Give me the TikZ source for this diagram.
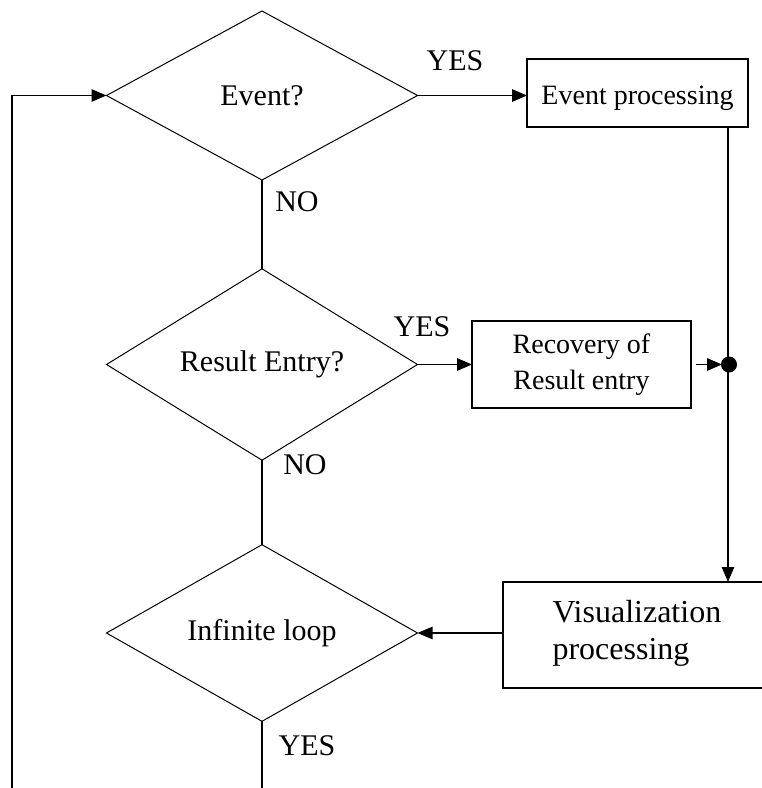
\documentclass[tikz,border=0pt]{standalone}
\usepackage{fontspec}
\setmainfont{Liberation Serif}
\usetikzlibrary{shapes.geometric,arrows.meta}
\begin{document}
\begin{tikzpicture}[x=1pt,y=-1pt,
  line width=1.1pt,
  dia/.style={draw, line width=1pt, diamond, inner sep=0pt, outer sep=0pt, minimum width=311pt, minimum height=169pt, font=\fontsize{30}{36}\selectfont},
  procbox/.style={draw, line width=1.4pt, rectangle, inner sep=0pt, outer sep=0pt, font=\fontsize{28}{36}\selectfont, align=center},
  lbl/.style={font=\fontsize{30}{36}\selectfont, inner sep=0pt},
  flow/.style={-{Triangle[length=15pt,width=12.5pt]}}]
\useasboundingbox (0,0) rectangle (762,788);
\clip (0,0) rectangle (762,788);
% decisions
\node[dia] (ev) at (262,95.5) {Event?};
\node[dia] (re) at (262,364.5) {Result Entry?};
\node[dia] (inf) at (262,633) {Infinite loop};
% processes
\node[procbox, minimum width=221pt, minimum height=68pt] (ep) at (637.5,93) {\raisebox{-5pt}[\height][\depth]{Event processing}};
\node[procbox, minimum width=219pt, minimum height=87pt] (rec) at (581.5,364.5) {Recovery of\\Result entry};
\node[procbox, minimum width=300pt, minimum height=106pt, anchor=north west] (vis) at (503,582) {};
\node[font=\fontsize{32}{37}\selectfont, align=left, anchor=west, inner sep=0pt] (vistext) at (552,633) {Visualization\\processing};
% junction
\coordinate (j) at (728,364.5);
\coordinate (bot) at (262,800);
\coordinate (botleft) at (12,800);
% connectors
\draw[flow] (ev.east) -- (ep.west |- ev.east);
\draw (ev.south) -- (re.north);
\draw[flow] (re.east) -- (rec.west |- re.east);
\draw (re.south) -- (inf.north);
\draw[flow] (ep.south -| j) -- (vis.north -| j);
\draw[flow] ([xshift=5pt]rec.east |- j) -- ([xshift=-6pt]j);
\fill ([xshift=1pt]j) circle (8pt);
\draw[flow] (vis.west |- inf.east) -- (inf.east);
\draw (inf.south) -- (bot);
\draw[flow] (botleft) |- (ev.west);
% labels
\node[lbl] (y1) at (455,61) {YES};
\node[lbl] (n1) at (297,202) {NO};
\node[lbl] (y2) at (422,327) {YES};
\node[lbl] (n2) at (305,465) {NO};
\node[lbl] (y3) at (307,746) {YES};
\end{tikzpicture}
\end{document}
